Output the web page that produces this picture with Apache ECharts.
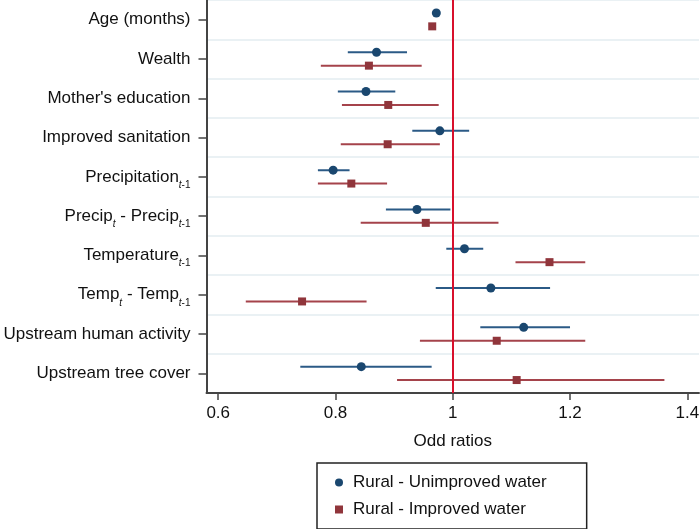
<!DOCTYPE html>
<html>
<head>
<meta charset="utf-8">
<script src="https://cdn.jsdelivr.net/npm/echarts@6/dist/echarts.min.js"></script>
<style>
html,body{margin:0;padding:0;background:#fff;}
#chart{width:700px;height:529px;}
</style>
</head>
<body>
<div id="chart"></div>
<script>
// Categories (top to bottom). "_{...}" marks a subscript.
const categories = [
  'Age (months)', 'Wealth', "Mother's education", 'Improved sanitation',
  'Precipitation_{t-1}', 'Precip_{t} - Precip_{t-1}', 'Temperature_{t-1}',
  'Temp_{t} - Temp_{t-1}', 'Upstream human activity', 'Upstream tree cover'
];
const seriesNames = ['Rural - Unimproved water', 'Rural - Improved water'];

// Rural - Unimproved water: odds ratio and 95% CI
const unimprovedOR = [0.972, 0.870, 0.852, 0.978, 0.796, 0.939, 1.020, 1.065, 1.121, 0.844];
const unimprovedLo = [0.969, 0.821, 0.804, 0.931, 0.770, 0.886, 0.989, 0.971, 1.047, 0.740];
const unimprovedHi = [0.975, 0.922, 0.902, 1.028, 0.824, 0.996, 1.052, 1.166, 1.200, 0.964];

// Rural - Improved water: odds ratio and 95% CI
const improvedOR = [0.965, 0.857, 0.890, 0.889, 0.827, 0.954, 1.165, 0.743, 1.075, 1.109];
const improvedLo = [0.962, 0.775, 0.811, 0.809, 0.770, 0.843, 1.107, 0.647, 0.944, 0.905];
const improvedHi = [0.968, 0.947, 0.976, 0.978, 0.888, 1.078, 1.226, 0.853, 1.226, 1.361];

const xTicks = [0.6, 0.8, 1, 1.2, 1.4];
const referenceValue = 1;

const FONT = '"Liberation Sans", Arial, Helvetica, sans-serif';
const BLUE = '#1a476f';
const RED = '#90353b';
const BLUE_LINE = '#2b5a86';
const RED_LINE = '#a5434b';
const OFFSET = 6.7;

function formatLabel(s) {
  return s.replace(/_\{t\}/g, '{it|t}').replace(/_\{t-1\}/g, '{it|t}{sub|-1}');
}

function ciData(lo, hi) {
  return categories.map((c, i) => [lo[i], hi[i], i]);
}
function pointData(v) {
  return categories.map((c, i) => [v[i], i]);
}
function ciRenderer(offset, color) {
  return function (params, api) {
    const p1 = api.coord([api.value(0), api.value(2)]);
    const p2 = api.coord([api.value(1), api.value(2)]);
    return {
      type: 'line',
      shape: { x1: p1[0], y1: p1[1] + offset, x2: p2[0], y2: p2[1] + offset },
      style: { stroke: color, lineWidth: 2 }
    };
  };
}

const chart = echarts.init(document.getElementById('chart'), null, { renderer: 'canvas' });
const subStyle = { fontFamily: FONT, fontSize: 10, color: '#111', lineHeight: 10, padding: [16, 0, 0, 0], verticalAlign: 'middle' };

chart.setOption({
  animation: false,
  backgroundColor: '#fff',
  grid: { left: 206.5, right: 1, top: 0, bottom: 136, containLabel: false, outerBoundsMode: 'none' },
  xAxis: {
    type: 'value',
    min: 0.58,
    max: 1.42,
    name: 'Odd ratios',
    nameLocation: 'middle',
    nameGap: 40,
    nameTextStyle: { fontFamily: FONT, fontSize: 17, color: '#111' },
    axisLine: { show: true, lineStyle: { color: '#444', width: 2 } },
    axisTick: { show: true, length: 7, customValues: xTicks, lineStyle: { color: '#444', width: 1.5 } },
    axisLabel: { customValues: xTicks, fontFamily: FONT, fontSize: 17, color: '#111', margin: 12,
      formatter: v => String(v) },
    splitLine: { show: false }
  },
  yAxis: {
    type: 'category',
    data: categories,
    inverse: true,
    boundaryGap: true,
    axisLine: { show: true, lineStyle: { color: '#444', width: 2 } },
    axisTick: { show: true, alignWithLabel: true, length: 8, lineStyle: { color: '#444', width: 1.5 } },
    axisLabel: {
      fontFamily: FONT, fontSize: 17, color: '#111', margin: 16,
      formatter: formatLabel,
      rich: {
        it: Object.assign({}, subStyle, { fontStyle: 'italic' }),
        sub: subStyle
      }
    },
    splitLine: { show: true, lineStyle: { color: '#eaf1f4', width: 2 } }
  },
  legend: {
    orient: 'vertical',
    left: 317,
    top: 463,
    padding: [11, 40, 11, 18],
    itemGap: 10,
    itemWidth: 8,
    itemHeight: 8,
    borderColor: '#222',
    borderWidth: 1.5,
    borderRadius: 0,
    textStyle: { fontFamily: FONT, fontSize: 17, color: '#111', lineHeight: 17, padding: [0, 0, 0, 5] },
    data: [
      { name: seriesNames[0], icon: 'circle' },
      { name: seriesNames[1], icon: 'rect' }
    ]
  },
  series: [
    {
      name: 'ci-unimproved', type: 'custom', z: 2, silent: true,
      renderItem: ciRenderer(-OFFSET, BLUE_LINE),
      encode: { x: [0, 1], y: 2 },
      data: ciData(unimprovedLo, unimprovedHi)
    },
    {
      name: 'ci-improved', type: 'custom', z: 2, silent: true,
      renderItem: ciRenderer(OFFSET, RED_LINE),
      encode: { x: [0, 1], y: 2 },
      data: ciData(improvedLo, improvedHi)
    },
    {
      name: 'ref', type: 'line', data: [], z: 3,
      markLine: {
        silent: true, symbol: 'none', label: { show: false },
        lineStyle: { color: '#d8102c', width: 2, type: 'solid' },
        data: [{ xAxis: referenceValue }]
      }
    },
    {
      name: seriesNames[0], type: 'scatter', z: 4,
      symbol: 'circle', symbolSize: 9, symbolOffset: [0, -OFFSET],
      itemStyle: { color: BLUE, opacity: 1 },
      data: pointData(unimprovedOR)
    },
    {
      name: seriesNames[1], type: 'scatter', z: 4,
      symbol: 'rect', symbolSize: 8, symbolOffset: [0, OFFSET],
      itemStyle: { color: RED, opacity: 1 },
      data: pointData(improvedOR)
    }
  ]
});
</script>
</body>
</html>
